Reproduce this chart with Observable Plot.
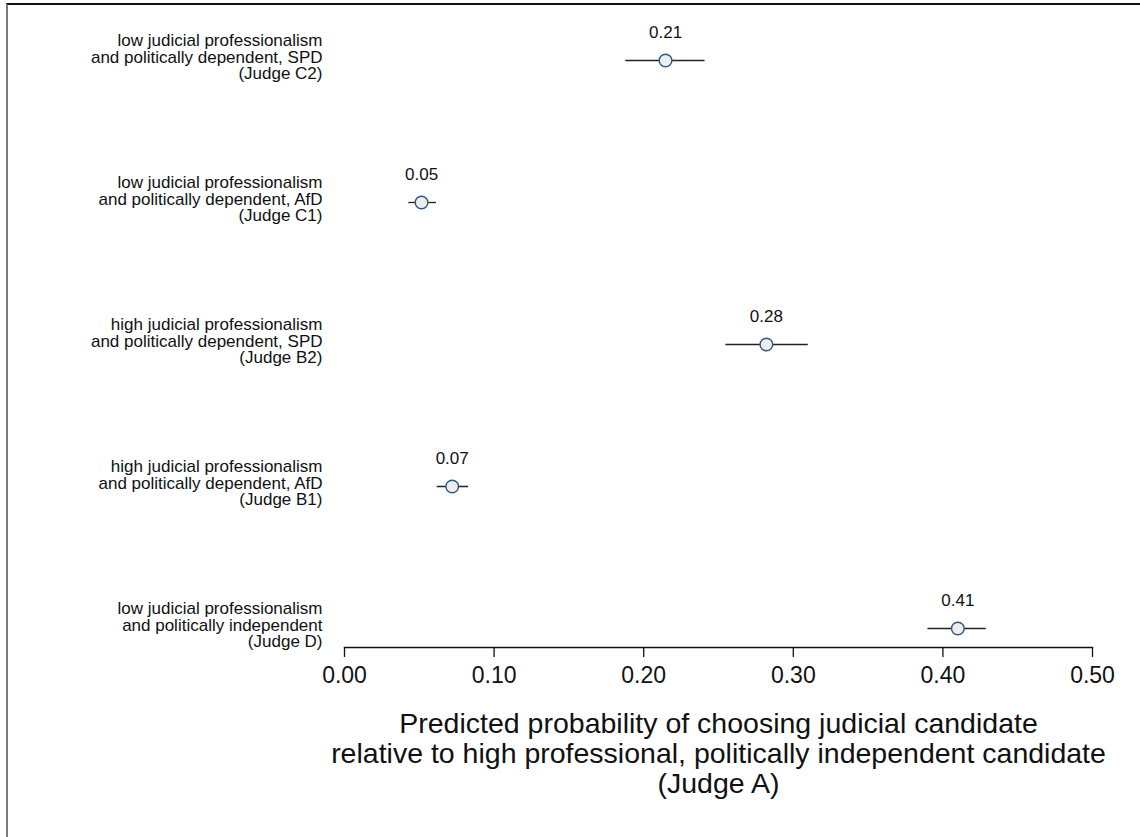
<!DOCTYPE html>
<html>
<head>
<meta charset="utf-8">
<script src="https://cdn.jsdelivr.net/npm/d3@7"></script>
<script src="https://cdn.jsdelivr.net/npm/@observablehq/plot@0.6"></script>
<style>
  html, body { margin: 0; padding: 0; background: #fff; }
  #wrap { position: relative; width: 1140px; height: 837px; overflow: hidden; }
  #frame { position: absolute; left: 6px; top: 3px; right: -10px; bottom: -10px;
           border-top: 2px solid #111; border-left: 2px solid #7a7a7a; pointer-events: none; }
  #chart { position: absolute; left: 0; top: 0; }
</style>
</head>
<body>
<div id="wrap"><div id="chart"></div><div id="frame"></div></div>
<script>
const categories = [
  "low judicial professionalism\nand politically dependent, SPD\n(Judge C2)",
  "low judicial professionalism\nand politically dependent, AfD\n(Judge C1)",
  "high judicial professionalism\nand politically dependent, SPD\n(Judge B2)",
  "high judicial professionalism\nand politically dependent, AfD\n(Judge B1)",
  "low judicial professionalism\nand politically independent\n(Judge D)"
];
const estimates = [0.2146, 0.0515, 0.282, 0.072, 0.410];
const lower = [0.188, 0.043, 0.255, 0.062, 0.390];
const upper = [0.241, 0.0615, 0.310, 0.083, 0.429];
const xTicks = [0, 0.1, 0.2, 0.3, 0.4, 0.5];
const xTitle = "Predicted probability of choosing judicial candidate\nrelative to high professional, politically independent candidate\n(Judge A)";

const rows = categories.map((c, i) => ({cat: c, est: estimates[i], lo: lower[i], hi: upper[i]}));
const font = "'Liberation Sans', Arial, Helvetica, sans-serif";

const chart = Plot.plot({
  width: 1140,
  height: 837,
  marginLeft: 344,
  marginRight: 48,
  marginTop: 0,
  marginBottom: 190,
  style: {fontFamily: font, background: "transparent", color: "#111"},
  x: {domain: [0, 0.5], ticks: xTicks, tickFormat: d3.format(".2f")},
  y: {type: "point", domain: categories, range: [60, 628], padding: 0, axis: null},
  marks: [
    Plot.frame({anchor: "bottom", stroke: "#111", strokeWidth: 1.3}),
    Plot.axisX({ticks: xTicks, tickFormat: d3.format(".2f"), tickSize: 10, tickPadding: 8.7,
                fontSize: 23, stroke: "#111", strokeWidth: 1.3, label: null}),
    Plot.text([xTitle], {frameAnchor: "bottom", text: d => d, lineAnchor: "top",
                dy: 64, fontSize: 28.5, lineHeight: 1.06, fill: "#111", textAnchor: "middle"}),
    Plot.text(rows, {y: "cat", text: "cat", frameAnchor: "left", textAnchor: "end", dx: -22, dy: -3,
                fontSize: 17, lineHeight: 0.98, fill: "#111"}),
    Plot.ruleY(rows, {y: "cat", x1: "lo", x2: "hi", stroke: "#222", strokeWidth: 1.3}),
    Plot.dot(rows, {y: "cat", x: "est", r: 6.3, fill: "#eeeeee", stroke: "#2a5887", strokeWidth: 1.4}),
    Plot.text(rows, {y: "cat", x: "est", text: d => d3.format(".2f")(d.est), dy: -27.5,
                fontSize: 17, fill: "#111"})
  ]
});
document.getElementById("chart").appendChild(chart);
</script>
</body>
</html>
